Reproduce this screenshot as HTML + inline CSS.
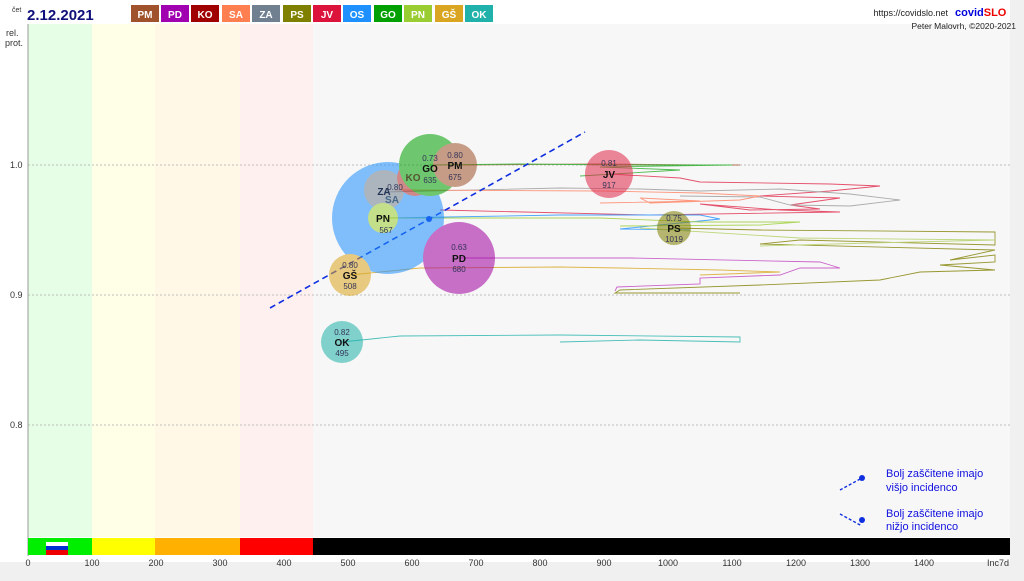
<!DOCTYPE html>
<html><head><meta charset="utf-8"><style>
body{margin:0;width:1024px;height:576px;background:#f0f0f0;overflow:hidden;font-family:"Liberation Sans","DejaVu Sans",sans-serif}
</style></head><body>
<svg width="1024" height="576" xmlns="http://www.w3.org/2000/svg" font-family="Liberation Sans, DejaVu Sans, sans-serif">
<rect x="0" y="0" width="1024" height="576" fill="#f0f0f0"/>
<rect x="0" y="0" width="1010" height="562" fill="#fff"/>
<!-- plot background bands -->
<rect x="28" y="24" width="982" height="513" fill="#f7f7f7"/>
<rect x="28" y="24" width="64" height="513" fill="#e6fde6"/>
<rect x="92" y="24" width="63" height="513" fill="#fffee6"/>
<rect x="155" y="24" width="85" height="513" fill="#fff8e6"/>
<rect x="240" y="24" width="73" height="513" fill="#fff0f0"/>
<line x1="28" y1="24" x2="28" y2="556" stroke="#999"/>
<!-- grid -->
<g stroke="#aaa" stroke-dasharray="2,2" stroke-width="0.8">
<line x1="28" y1="165" x2="1010" y2="165"/><line x1="28" y1="295" x2="1010" y2="295"/><line x1="28" y1="425" x2="1010" y2="425"/></g>
<g font-size="9" fill="#333"><text x="10" y="168">1.0</text><text x="10" y="298">0.9</text><text x="10" y="428">0.8</text>
<text x="6" y="36">rel.</text><text x="5" y="46">prot.</text></g>
<!-- bottom bar -->
<rect x="28" y="538" width="64" height="17" fill="#00ee00"/>
<rect x="92" y="538" width="63" height="17" fill="#ffff00"/>
<rect x="155" y="538" width="85" height="17" fill="#ffb000"/>
<rect x="240" y="538" width="73" height="17" fill="#ff0000"/>
<rect x="313" y="538" width="697" height="17" fill="#000"/>
<rect x="46" y="542" width="22" height="4" fill="#fff"/><rect x="46" y="546" width="22" height="4" fill="#0030d0"/><rect x="46" y="550" width="22" height="5" fill="#e00"/>
<g font-size="9" fill="#333" text-anchor="middle">
<text x="28" y="566">0</text><text x="92" y="566">100</text><text x="156" y="566">200</text><text x="220" y="566">300</text><text x="284" y="566">400</text><text x="348" y="566">500</text><text x="412" y="566">600</text><text x="476" y="566">700</text><text x="540" y="566">800</text><text x="604" y="566">900</text><text x="668" y="566">1000</text><text x="732" y="566">1100</text><text x="796" y="566">1200</text><text x="860" y="566">1300</text><text x="924" y="566">1400</text><text x="998" y="566">Inc7d</text></g>
<!-- trajectories -->
<g fill="none" stroke-width="0.9" opacity="0.8">
<polyline stroke="#a0522d" points="455,165 600,164 700,165 740,165"/>
<polyline stroke="#2a2" points="430,165 520,164 620,165 732,165 600,167 680,170 580,176"/>
<polyline stroke="#e0284a" points="609,174 680,178 700,182 830,184 880,186 830,191 760,196 840,198 790,205 820,209 750,210 700,204 780,210 840,212 650,215 440,210"/>
<polyline stroke="#999" points="384,192 560,188 640,189 700,191 780,189 850,194 900,200 850,206 790,205 760,197 680,196"/>
<polyline stroke="#ff8060" points="395,190 600,191 700,193 760,196 740,200 650,203 640,198 700,201 600,203"/>
<polyline stroke="#1e90ff" points="388,218 560,215 700,215 720,219 620,229 690,230"/>
<polyline stroke="#9acd32" points="383,218 600,218 700,222 800,222 760,225 620,226"/>
<polyline stroke="#808000" points="674,228 760,230 995,232 995,245 800,240 760,244 995,250 950,260 995,255 995,262 940,265 995,270 920,272 880,280 760,285 620,290 615,293 740,293"/>
<polyline stroke="#b0d060" points="640,228 800,238 995,240 870,243 760,246"/>
<polyline stroke="#c040c0" points="459,258 630,258 820,262 840,268 800,268 780,275 700,278 700,284 617,287 615,291"/>
<polyline stroke="#daa520" points="350,275 420,268 560,267 620,268 720,270 780,272 700,275"/>
<polyline stroke="#20b2aa" points="342,342 400,336 560,335 740,337 740,342 640,340 560,342"/>
</g>
<!-- dashed line -->
<line x1="270" y1="308" x2="585" y2="132" stroke="#1030e0" stroke-width="1.6" stroke-dasharray="6,4"/>
<circle cx="429" cy="219" r="3" fill="#1030e0"/>
<!-- bubbles -->
<g opacity="0.55">
<circle cx="395" cy="192" r="28" fill="#ff7f50"/>
<circle cx="388" cy="218" r="56" fill="#1e90ff"/>
<circle cx="384" cy="190" r="20" fill="#708090"/>
<circle cx="415" cy="178" r="18" fill="#b03030"/>
<circle cx="383" cy="218" r="15" fill="#9acd32"/>
<circle cx="430" cy="165" r="31" fill="#00a000"/>
<circle cx="455" cy="165" r="22" fill="#a0522d"/>
<circle cx="459" cy="258" r="36" fill="#a000a0"/>
<circle cx="350" cy="275" r="21" fill="#daa520"/>
<circle cx="342" cy="342" r="21" fill="#20b2aa"/>
<circle cx="609" cy="174" r="24" fill="#e0284a"/>
<circle cx="674" cy="228" r="17" fill="#808000"/>
</g>
<g font-size="8" fill="#335" text-anchor="middle">
<text x="430" y="161">0.73</text><text x="430" y="183">635</text>
<text x="455" y="158">0.80</text><text x="455" y="180">675</text>
<text x="459" y="250">0.63</text><text x="459" y="272">680</text>
<text x="350" y="268">0.80</text><text x="350" y="289">508</text>
<text x="342" y="335">0.82</text><text x="342" y="356">495</text>
<text x="609" y="166">0.81</text><text x="609" y="188">917</text>
<text x="674" y="221">0.75</text><text x="674" y="242">1019</text>
<text x="386" y="233">567</text><text x="395" y="190">0.80</text>
</g>
<g font-size="10" font-weight="bold" fill="#111" text-anchor="middle">
<text x="430" y="172">GO</text><text x="455" y="169">PM</text><text x="459" y="262">PD</text><text x="350" y="279">GŠ</text><text x="342" y="346">OK</text><text x="609" y="178">JV</text><text x="674" y="232">PS</text><text x="383" y="222">PN</text><text x="384" y="195" fill="#235">ZA</text><text x="392" y="203" fill="#468">SA</text><text x="413" y="181" fill="#553">KO</text></g>
<!-- header -->
<text x="12" y="12" font-size="7" fill="#333">čet</text>
<text x="27" y="20" font-size="15" font-weight="bold" fill="#10107a">2.12.2021</text>
<g font-size="10" font-weight="bold" fill="#fff" text-anchor="middle">
<rect x="131" y="5" width="28" height="17" fill="#a0522d"/><text x="145" y="18">PM</text>
<rect x="161" y="5" width="28" height="17" fill="#a000b0"/><text x="175" y="18">PD</text>
<rect x="191" y="5" width="28" height="17" fill="#a00000"/><text x="205" y="18">KO</text>
<rect x="222" y="5" width="28" height="17" fill="#ff7f50"/><text x="236" y="18">SA</text>
<rect x="252" y="5" width="28" height="17" fill="#708090"/><text x="266" y="18">ZA</text>
<rect x="283" y="5" width="28" height="17" fill="#808000"/><text x="297" y="18">PS</text>
<rect x="313" y="5" width="28" height="17" fill="#dc143c"/><text x="327" y="18">JV</text>
<rect x="343" y="5" width="28" height="17" fill="#1e90ff"/><text x="357" y="18">OS</text>
<rect x="374" y="5" width="28" height="17" fill="#00a000"/><text x="388" y="18">GO</text>
<rect x="404" y="5" width="28" height="17" fill="#9acd32"/><text x="418" y="18">PN</text>
<rect x="435" y="5" width="28" height="17" fill="#daa520"/><text x="449" y="18">GŠ</text>
<rect x="465" y="5" width="28" height="17" fill="#20b2aa"/><text x="479" y="18">OK</text>
</g>
<text x="948" y="16" font-size="9" fill="#222" text-anchor="end">https://covidslo.net</text>
<text x="955" y="16" font-size="11" font-weight="bold" fill="#0000dd">covid<tspan fill="#e00">SLO</tspan></text>
<text x="1016" y="29" font-size="8.5" fill="#222" text-anchor="end">Peter Malovrh, ©2020-2021</text>
<!-- legend -->
<line x1="840" y1="490" x2="862" y2="478" stroke="#1030e0" stroke-width="1.4" stroke-dasharray="3,2"/><circle cx="862" cy="478" r="3" fill="#1030e0"/>
<line x1="840" y1="514" x2="862" y2="526" stroke="#1030e0" stroke-width="1.4" stroke-dasharray="3,2"/><circle cx="862" cy="520" r="3" fill="#1030e0"/>
<g font-size="11" fill="#1010e0"><text x="886" y="477">Bolj  zaščitene imajo</text><text x="886" y="491">višjo incidenco</text><text x="886" y="517">Bolj  zaščitene imajo</text><text x="886" y="530">nižjo incidenco</text></g>
</svg>
</body></html>
